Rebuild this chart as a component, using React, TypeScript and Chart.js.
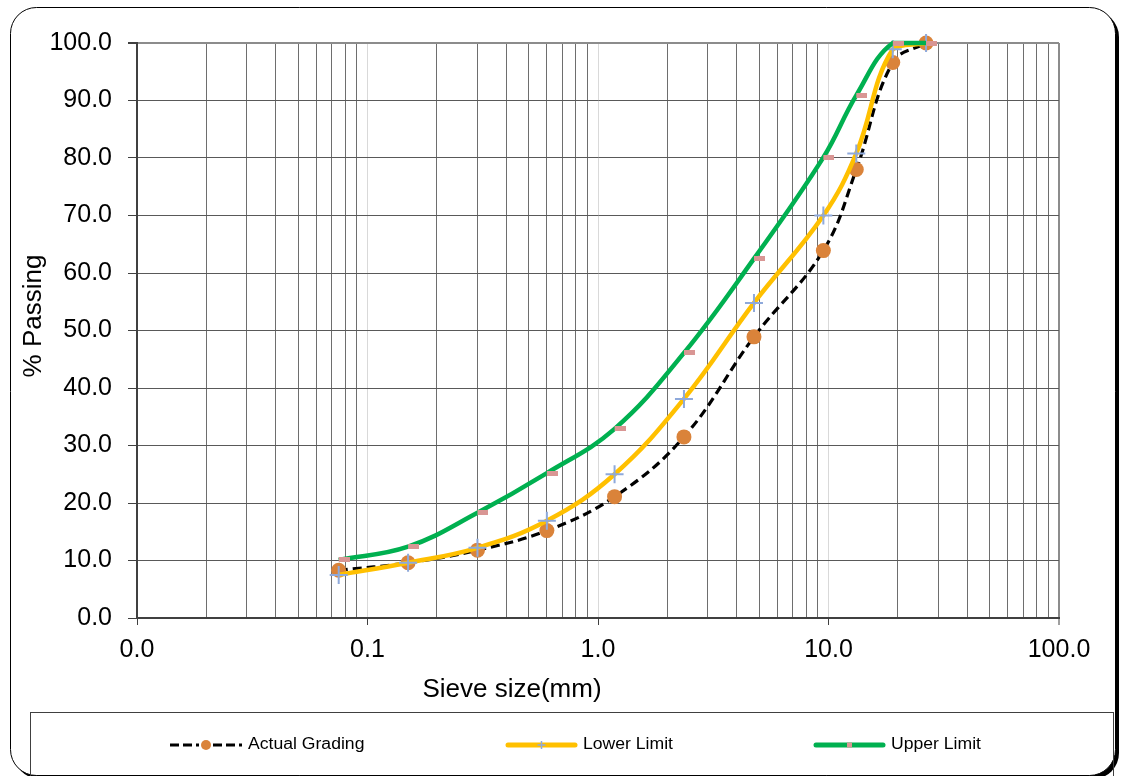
import React, { useEffect, useRef } from 'react';
import { Chart, registerables } from 'chart.js';

Chart.register(...registerables);

// ---- data ----
const sieveSizes = [0.075, 0.15, 0.3, 0.6, 1.18, 2.36, 4.75, 9.5, 13.2, 19, 26.5];
const actualGrading = [8.3, 9.6, 11.8, 15.2, 21.1, 31.5, 48.9, 63.9, 78.0, 96.6, 100];
const lowerLimit = [7.5, 9.6, 12.2, 16.9, 25.0, 38.1, 54.8, 70.0, 80.8, 98.9, 100];
const upperLimit = [10.1, 12.4, 18.3, 25.2, 32.9, 46.1, 62.5, 80.1, 90.9, 100, 100];

const seriesLabels = ['Actual Grading', 'Lower Limit', 'Upper Limit'];
const xAxisTitle = 'Sieve size(mm)';
const yAxisTitle = '% Passing';

// log-axis grid: decades and the multiples inside each decade
const xDecades = [-2, -1, 0, 1];
const xMultiples = [1, 2, 3, 4, 5, 6, 7, 8, 9];
const xMin = 0.01;
const xMax = 100;
const yMin = 0;
const yMax = 100;
const yStep = 10;

const FONT = "'Liberation Sans', Arial, Helvetica, sans-serif";

const isPow10 = (v: number) => Math.abs(Math.log10(v) - Math.round(Math.log10(v))) < 1e-9;

function makeDashMarker(): HTMLCanvasElement {
  // Excel "dash" marker: a short bar that starts at the point and runs right
  const c = document.createElement('canvas');
  c.width = 22;
  c.height = 5;
  const g = c.getContext('2d')!;
  g.fillStyle = '#D99694';
  g.fillRect(11, 0, 11, 5);
  return c;
}

function roundRectPath(ctx: CanvasRenderingContext2D, x: number, y: number, w: number, h: number, r: number) {
  ctx.beginPath();
  ctx.moveTo(x + r, y);
  ctx.lineTo(x + w - r, y);
  ctx.arcTo(x + w, y, x + w, y + r, r);
  ctx.lineTo(x + w, y + h - r);
  ctx.arcTo(x + w, y + h, x + w - r, y + h, r);
  ctx.lineTo(x + r, y + h);
  ctx.arcTo(x, y + h, x, y + h - r, r);
  ctx.lineTo(x, y + r);
  ctx.arcTo(x, y, x + r, y, r);
  ctx.closePath();
}

const framePlugin = {
  id: 'frameAndLegend',
  beforeDraw(chart: any) {
    const ctx: CanvasRenderingContext2D = chart.ctx;
    ctx.save();
    ctx.fillStyle = '#ffffff';
    ctx.fillRect(0, 0, chart.width, chart.height);
    // shadow
    roundRectPath(ctx, 14, 11, 1105, 768, 26);
    ctx.fillStyle = '#000000';
    ctx.fill();
    // frame
    roundRectPath(ctx, 10.5, 7.5, 1105, 768, 26);
    ctx.fillStyle = '#ffffff';
    ctx.fill();
    ctx.lineWidth = 1;
    ctx.strokeStyle = '#000000';
    ctx.stroke();
    ctx.restore();
  },
  afterDraw(chart: any) {
    const ctx: CanvasRenderingContext2D = chart.ctx;
    const ds = chart.data.datasets;
    ctx.save();
    // axis titles
    ctx.fillStyle = '#000000';
    ctx.font = `26px ${FONT}`;
    ctx.textAlign = 'center';
    ctx.textBaseline = 'middle';
    ctx.fillText(xAxisTitle, 512, 690);
    ctx.save();
    ctx.translate(33.5, 316);
    ctx.rotate(-Math.PI / 2);
    ctx.fillText(yAxisTitle, 0, 0);
    ctx.restore();

    // legend box
    ctx.strokeStyle = '#404040';
    ctx.lineWidth = 1;
    ctx.strokeRect(30.5, 712.5, 1083, 70);
    const y = 745;
    const items = [
      { x1: 170, x2: 242, tx: 248 },
      { x1: 506, x2: 577, tx: 583 },
      { x1: 814, x2: 885, tx: 891 },
    ];
    // Actual grading sample
    ctx.strokeStyle = '#000000';
    ctx.lineWidth = 3;
    ctx.setLineDash([9, 4]);
    ctx.beginPath();
    ctx.moveTo(items[0].x1, y);
    ctx.lineTo(items[0].x1 + 29, y);
    ctx.moveTo(items[0].x2 - 29, y);
    ctx.lineTo(items[0].x2, y);
    ctx.stroke();
    ctx.setLineDash([]);
    ctx.fillStyle = '#DA833A';
    ctx.beginPath();
    ctx.ellipse((items[0].x1 + items[0].x2) / 2, y, 5, 5, 0, 0, Math.PI * 2);
    ctx.fill();
    // Lower limit sample
    ctx.strokeStyle = '#FFC000';
    ctx.lineWidth = 5;
    ctx.lineCap = 'round';
    ctx.beginPath();
    ctx.moveTo(items[1].x1 + 2, y);
    ctx.lineTo(items[1].x2 - 2, y);
    ctx.stroke();
    const cx1 = (items[1].x1 + items[1].x2) / 2;
    ctx.lineCap = 'butt';
    ctx.strokeStyle = '#8EA9DB';
    ctx.lineWidth = 1.5;
    ctx.beginPath();
    ctx.moveTo(cx1 - 4, y);
    ctx.lineTo(cx1 + 4, y);
    ctx.moveTo(cx1, y - 4);
    ctx.lineTo(cx1, y + 4);
    ctx.stroke();
    // Upper limit sample
    ctx.strokeStyle = '#00B050';
    ctx.lineWidth = 5;
    ctx.lineCap = 'round';
    ctx.beginPath();
    ctx.moveTo(items[2].x1 + 2, y);
    ctx.lineTo(items[2].x2 - 2, y);
    ctx.stroke();
    ctx.lineCap = 'butt';
    ctx.fillStyle = '#D99694';
    ctx.fillRect((items[2].x1 + items[2].x2) / 2 - 2.5, y - 2.5, 5, 5);
    // legend texts
    ctx.fillStyle = '#000000';
    ctx.font = `16px ${FONT}`;
    ctx.textBaseline = 'middle';
    ctx.textAlign = 'left';
    items.forEach((it, i) => {
      ctx.save();
      ctx.translate(it.tx, y);
      ctx.scale(1.1, 1);
      ctx.fillText(ds[i].label, 0, 0);
      ctx.restore();
    });
    ctx.restore();
  },
};

export default function App() {
  const ref = useRef<HTMLCanvasElement>(null);

  useEffect(() => {
    const canvas = ref.current;
    if (!canvas) return;
    const dash = makeDashMarker();
    const pts = (vals: number[]) => sieveSizes.map((x, i) => ({ x, y: vals[i] }));
    const xTickValues: number[] = [];
    xDecades.forEach((d) => xMultiples.forEach((m) => xTickValues.push(m * Math.pow(10, d))));
    xTickValues.push(xMax);

    const chart = new Chart(canvas, {
      type: 'line',
      data: {
        datasets: [
          {
            label: seriesLabels[0],
            data: pts(actualGrading),
            borderColor: '#000000',
            borderWidth: 3.2,
            borderDash: [9, 5],
            pointStyle: 'circle',
            pointRadius: 7.5,
            pointBackgroundColor: '#DA833A',
            pointBorderColor: '#DA833A',
            pointBorderWidth: 0,
            tension: 0.4,
            fill: false,
            order: 3,
            clip: false as any,
          },
          {
            label: seriesLabels[1],
            data: pts(lowerLimit),
            borderColor: '#FFC000',
            borderWidth: 4.5,
            pointStyle: 'cross',
            pointRadius: 9,
            pointBorderColor: '#8EA9DB',
            pointBorderWidth: 2,
            tension: 0.4,
            fill: false,
            order: 2,
            clip: false as any,
          },
          {
            label: seriesLabels[2],
            data: pts(upperLimit),
            borderColor: '#00B050',
            borderWidth: 4.5,
            pointStyle: dash as any,
            pointRadius: 5,
            tension: 0.4,
            fill: false,
            order: 1,
            clip: false as any,
          },
        ],
      },
      options: {
        responsive: false,
        animation: false,
        devicePixelRatio: 1,
        layout: { padding: { left: 10, top: 43, right: 64, bottom: 58 } },
        plugins: {
          legend: { display: false },
          tooltip: { enabled: false },
        },
        scales: {
          x: {
            type: 'logarithmic',
            min: xMin,
            max: xMax,
            afterBuildTicks: (scale: any) => {
              scale.ticks = xTickValues.map((v) => ({ value: v }));
            },
            afterFit: (scale: any) => {
              scale.height = 100;
            },
            ticks: {
              autoSkip: false,
              maxRotation: 0,
              minRotation: 0,
              padding: 10,
              color: '#000000',
              font: { family: FONT, size: 25 },
              callback: (value: any) => {
                const v = Number(value);
                return isPow10(v) ? v.toFixed(1) : '';
              },
            },
            grid: {
              color: (ctx: any) => {
                const v = ctx.tick ? ctx.tick.value : 0;
                if (Math.abs(v - xMax) < 1e-9) return '#8c8c8c';
                if (Math.abs(v - xMin) < 1e-12) return '#404040';
                return isPow10(v) ? '#d9d9d9' : '#6e6e6e';
              },
              lineWidth: (ctx: any) => {
                const v = ctx.tick ? ctx.tick.value : 0;
                return Math.abs(v - xMax) < 1e-9 ? 2 : 1;
              },
              tickColor: (ctx: any) => {
                const v = ctx.tick ? ctx.tick.value : 0;
                return isPow10(v) ? '#404040' : 'rgba(0,0,0,0)';
              },
              tickLength: 7,
              tickWidth: 1,
            },
            border: { color: '#404040', width: 2 },
            title: { display: false, text: xAxisTitle },
          },
          y: {
            type: 'linear',
            min: yMin,
            max: yMax,
            afterFit: (scale: any) => {
              scale.width = 127;
            },
            ticks: {
              stepSize: yStep,
              padding: 16,
              color: '#000000',
              font: { family: FONT, size: 25 },
              callback: (value: any) => Number(value).toFixed(1),
            },
            grid: {
              color: (ctx: any) => {
                const v = ctx.tick ? ctx.tick.value : 0;
                return v === yMax ? '#8c8c8c' : '#595959';
              },
              lineWidth: (ctx: any) => {
                const v = ctx.tick ? ctx.tick.value : 0;
                return v === yMax ? 2 : 1;
              },
              tickColor: '#404040',
              tickLength: 9,
            },
            border: { color: '#404040', width: 2 },
            title: { display: false, text: yAxisTitle },
          },
        },
      },
      plugins: [framePlugin],
    } as any);

    return () => {
      chart.destroy();
    };
  }, []);

  return (
    <div style={{ position: 'fixed', left: 0, top: 0, width: 1123, height: 776, background: '#ffffff' }}>
      <canvas ref={ref} width={1123} height={776} style={{ display: 'block', width: 1123, height: 776 }} />
    </div>
  );
}
